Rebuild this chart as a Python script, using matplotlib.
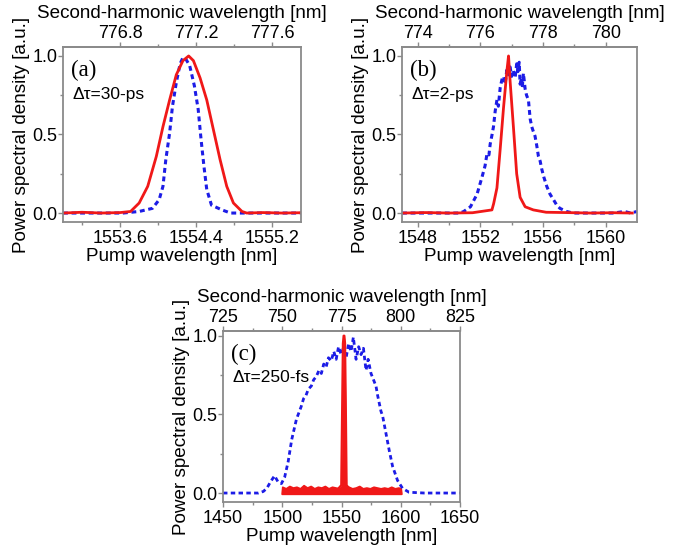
import matplotlib
matplotlib.use("Agg")
import matplotlib.pyplot as plt
from matplotlib.ticker import FixedLocator

plt.rcParams['font.family'] = ['Liberation Sans', 'DejaVu Sans']

# ---------------- data ----------------
# panel (a)  30-ps
a_red_x = [1553.00, 1553.20, 1553.40, 1553.60, 1553.71, 1553.80, 1553.89, 1553.98, 1554.05, 1554.12,
           1554.19, 1554.26, 1554.32, 1554.37, 1554.44, 1554.51, 1554.58, 1554.65, 1554.72, 1554.79,
           1554.88, 1554.93, 1555.10, 1555.30, 1555.50]
a_red_y = [0.00, 0.005, 0.0, 0.003, 0.01, 0.064, 0.17, 0.36, 0.55, 0.72,
           0.88, 0.97, 1.00, 0.97, 0.86, 0.72, 0.53, 0.34, 0.17, 0.064,
           0.01, 0.0, 0.003, 0.0, 0.002]
a_blue_x = [1553.00, 1553.40, 1553.63, 1553.80, 1553.94, 1554.01, 1554.05, 1554.08, 1554.12, 1554.15,
            1554.19, 1554.23, 1554.26, 1554.29, 1554.33, 1554.38, 1554.42, 1554.45, 1554.48, 1554.51,
            1554.56, 1554.67, 1554.76, 1555.00, 1555.50]
a_blue_y = [0.0, 0.0, 0.0, 0.01, 0.03, 0.085, 0.17, 0.34, 0.51, 0.68,
            0.83, 0.95, 0.99, 0.98, 0.94, 0.81, 0.66, 0.47, 0.30, 0.15,
            0.05, 0.02, 0.0, 0.0, 0.0]

# panel (b)  2-ps
b_red_x = [1547.0, 1548.5, 1550.0, 1551.5, 1552.74, 1552.85, 1553.06, 1553.27, 1553.48, 1553.69,
           1553.80, 1553.90, 1554.11, 1554.32, 1554.54, 1554.86, 1555.38, 1556.2, 1557.5, 1559.0,
           1560.5, 1561.7]
b_red_y = [0.0, 0.003, 0.0, 0.002, 0.02, 0.06, 0.16, 0.41, 0.67, 0.90,
           1.00, 0.84, 0.55, 0.25, 0.10, 0.04, 0.02, 0.005, 0.003, 0.0,
           0.002, 0.0]
b_blue_x = [1547.0, 1548.0, 1549.0, 1550.0, 1550.7, 1550.94, 1551.37, 1551.79, 1552.11, 1552.30,
            1552.43, 1552.55, 1552.63, 1552.75, 1552.84, 1552.95, 1553.06, 1553.15, 1553.27, 1553.38,
            1553.48, 1553.58, 1553.69, 1553.80, 1553.90, 1554.00, 1554.11, 1554.22, 1554.32, 1554.40,
            1554.48, 1554.54, 1554.62, 1554.68, 1554.75, 1554.86, 1554.95, 1555.07, 1555.18, 1555.28,
            1555.38, 1555.49, 1555.60, 1555.71, 1555.82, 1555.92, 1556.05, 1556.24, 1556.45, 1556.67,
            1556.88, 1557.08, 1557.50, 1557.92, 1558.5, 1559.5, 1560.5, 1561.2, 1561.6, 1562.0]
b_blue_y = [0.0, 0.0, 0.0, 0.0, 0.0, 0.01, 0.04, 0.12, 0.23, 0.30,
            0.38, 0.37, 0.44, 0.50, 0.55, 0.65, 0.72, 0.68, 0.80, 0.85,
            0.87, 0.82, 0.91, 0.88, 0.93, 0.87, 0.91, 0.86, 0.95, 0.90,
            0.96, 0.82, 0.86, 0.80, 0.89, 0.79, 0.75, 0.72, 0.60, 0.55,
            0.52, 0.49, 0.43, 0.36, 0.33, 0.28, 0.23, 0.17, 0.12, 0.085,
            0.05, 0.03, 0.01, 0.0, 0.0, 0.0, 0.0, 0.01, 0.0, 0.01]

# panel (c)  250-fs
c_blue_x = [1450, 1460, 1470, 1480, 1484, 1487, 1490, 1493.5, 1496.5, 1499.3,
            1502, 1505, 1508, 1512, 1516, 1518, 1520, 1522, 1524.5, 1526.5,
            1528.7, 1531, 1533, 1535, 1537, 1539, 1541.3, 1543.5, 1545.5, 1547.5,
            1549.7, 1551.5, 1553.9, 1556, 1558.1, 1560, 1562.3, 1564.5, 1566.5, 1568.5,
            1570.7, 1572.5, 1574.9, 1577, 1579.1, 1580.5, 1581.9, 1583.3, 1584.7, 1587.5,
            1590.3, 1593.1, 1597.3, 1601.5, 1607, 1620, 1635, 1650]
c_blue_y = [0.0, 0.0, 0.0, 0.0, 0.01, 0.03, 0.07, 0.11, 0.07, 0.06,
            0.10, 0.20, 0.34, 0.47, 0.55, 0.60, 0.62, 0.66, 0.68, 0.72,
            0.74, 0.78, 0.76, 0.82, 0.80, 0.86, 0.84, 0.90, 0.85, 0.93,
            0.88, 0.92, 0.86, 0.95, 0.90, 0.99, 0.85, 0.93, 0.88, 0.92,
            0.78, 0.85, 0.76, 0.72, 0.68, 0.62, 0.57, 0.52, 0.49, 0.38,
            0.27, 0.17, 0.08, 0.03, 0.005, 0.0, 0.0, 0.0]
c_red_band_x = [1499.5, 1500, 1503, 1506, 1509, 1512, 1515, 1518, 1521, 1524, 1527, 1530,
                1533, 1536, 1539, 1542, 1545, 1548, 1556, 1559, 1562, 1565, 1568, 1571,
                1574, 1577, 1580, 1583, 1586, 1589, 1592, 1595, 1598, 1600, 1600.5]
c_red_band_top = [0.0, 0.04, 0.03, 0.045, 0.035, 0.04, 0.03, 0.05, 0.035, 0.045, 0.03, 0.04,
                  0.035, 0.045, 0.03, 0.04, 0.035, 0.03, 0.04, 0.03, 0.035, 0.045, 0.03, 0.035,
                  0.03, 0.04, 0.035, 0.03, 0.035, 0.03, 0.04, 0.03, 0.035, 0.03, 0.0]
c_red_peak_x = [1547.5, 1549.8, 1550.5, 1551.2, 1551.8, 1552.4, 1553.0, 1553.7, 1554.3, 1556.5]
c_red_peak_y = [0.03, 0.05, 0.5, 0.95, 1.0, 1.0, 0.95, 0.5, 0.05, 0.03]

panel_labels = ['(a)', '(b)', '(c)']
pulse_labels = ['Δτ=30-ps', 'Δτ=2-ps', 'Δτ=250-fs']
xlims = [(1553.0, 1555.5), (1547.0, 1562.0), (1450, 1650)]
ylims = [(-0.057, 1.057), (-0.057, 1.057), (-0.057, 1.03)]
xticks_major = [[1553.6, 1554.4, 1555.2], [1548, 1552, 1556, 1560], [1450, 1500, 1550, 1600, 1650]]
xticks_minor = [[1553.2, 1554.0, 1554.8], [1550, 1554, 1558], [1475, 1525, 1575, 1625]]
top_major = [[776.8, 777.2, 777.6], [774, 776, 778, 780], [725, 750, 775, 800, 825]]
top_minor = [[777.0, 777.4], [775, 777, 779], [737.5, 762.5, 787.5, 812.5]]
xtick_fmt = ['{:.1f}', '{:d}', '{:d}']
top_fmt = ['{:.1f}', '{:d}', '{:d}']
yticks = [0.0, 0.5, 1.0]

RED = '#f01818'
BLUE = '#1c1ce6'
GRAY = '#8a8a8a'

W, H = 684, 552
fig = plt.figure(figsize=(W / 100, H / 100), dpi=100)

boxes_px = [(63, 47, 301, 222), (402, 47, 637, 222), (223, 331, 460, 502)]
axes = []
for (l, t, r, b) in boxes_px:
    axes.append(fig.add_axes([l / W, (H - b) / H, (r - l) / W, (b - t) / H]))

dash = (0, (1.6, 1.2))
LBL = 13.6
TCK = 13

def style(ax, i):
    ax.set_xlim(*xlims[i])
    ax.set_ylim(*ylims[i])
    for s in ax.spines.values():
        s.set_color(GRAY)
        s.set_linewidth(1.3)
    ax.set_xticks(xticks_major[i])
    ax.set_xticklabels([xtick_fmt[i].format(v) for v in xticks_major[i]])
    ax.xaxis.set_minor_locator(FixedLocator(xticks_minor[i]))
    ax.set_yticks(yticks)
    ax.set_yticklabels(['0.0', '0.5', '1.0'])
    ax.yaxis.set_minor_locator(FixedLocator([0.25, 0.75]))
    ax.tick_params(which='major', direction='out', length=3.5, width=1, color=GRAY,
                   labelsize=TCK, pad=2)
    ax.tick_params(axis='y', which='major', pad=0.5)
    ax.tick_params(which='minor', direction='out', length=2, width=1, color=GRAY)
    ax.set_xlabel('Pump wavelength [nm]', fontsize=LBL, labelpad=1.0)
    ax.set_ylabel('Power spectral density [a.u.]', fontsize=LBL, labelpad=1.5)
    sec = ax.secondary_xaxis('top', functions=(lambda x: x / 2.0, lambda x: x * 2.0))
    sec.set_xticks(top_major[i])
    sec.set_xticklabels([top_fmt[i].format(v) for v in top_major[i]])
    sec.xaxis.set_minor_locator(FixedLocator(top_minor[i]))
    sec.tick_params(which='major', direction='out', length=3.5, width=1, color=GRAY,
                    labelsize=TCK, pad=0.3)
    sec.tick_params(which='minor', direction='out', length=2, width=1, color=GRAY)
    for s in sec.spines.values():
        s.set_color(GRAY)
        s.set_linewidth(1.3)
    sec.set_xlabel('Second-harmonic wavelength [nm]', fontsize=LBL, labelpad=5)
    ax.text(0.035, 0.925, panel_labels[i], transform=ax.transAxes, fontsize=16.5,
            family=['Liberation Serif', 'DejaVu Serif'], va='top', ha='left')
    ax.text(0.04, 0.77, pulse_labels[i], transform=ax.transAxes, fontsize=12.5,
            va='top', ha='left')

# (a)
ax = axes[0]
ax.plot(a_blue_x, a_blue_y, color=BLUE, lw=2.2, ls=dash)
ax.plot(a_red_x, a_red_y, color=RED, lw=2.0)
style(ax, 0)

# (b)
ax = axes[1]
ax.plot(b_blue_x, b_blue_y, color=BLUE, lw=2.2, ls=dash)
ax.plot(b_red_x, b_red_y, color=RED, lw=2.0)
style(ax, 1)

# (c)
ax = axes[2]
ax.plot(c_blue_x, c_blue_y, color=BLUE, lw=2.0, ls=dash)
ax.fill_between(c_red_band_x, -0.005, c_red_band_top, color=RED, lw=1.2, edgecolor=RED)
ax.fill_between(c_red_peak_x, 0, c_red_peak_y, color=RED, lw=0)
ax.plot(c_red_peak_x, c_red_peak_y, color=RED, lw=1.6)
style(ax, 2)

fig.savefig('out.png', dpi=100)
